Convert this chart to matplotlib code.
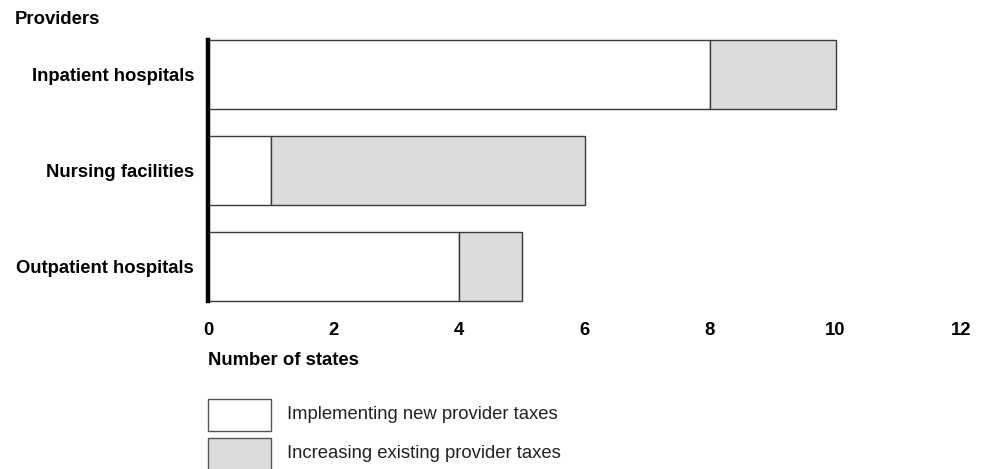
import matplotlib
matplotlib.use("Agg")
import matplotlib.pyplot as plt
from matplotlib.patches import Rectangle

categories = ["Inpatient hospitals", "Nursing facilities", "Outpatient hospitals"]
new_taxes = [8, 1, 4]
increased_taxes = [2, 5, 1]
xticks = [0, 2, 4, 6, 8, 10, 12]
series_labels = ["Implementing new provider taxes", "Increasing existing provider taxes"]

plt.rcParams['font.family'] = ['Liberation Sans', 'DejaVu Sans']
FS = 13.3

W, H = 986, 469
fig = plt.figure(figsize=(W / 100, H / 100), dpi=100)
fig.patch.set_facecolor('white')

left, right, top, bottom = 208, 961, 40, 301
ax = fig.add_axes([left / W, 1 - bottom / H, (right - left) / W, (bottom - top) / H])

pos = list(range(len(categories)))
bh = 0.72
edge = '#3a3a3a'
gray = '#dcdcdc'
ax.barh(pos, new_taxes, height=bh, color='white', edgecolor=edge, linewidth=1.0, clip_on=False)
ax.barh(pos, increased_taxes, left=new_taxes, height=bh, color=gray, edgecolor=edge, linewidth=1.0, clip_on=False)

ax.set_xlim(0, 12)
ax.set_ylim(len(categories) - 1 + bh / 2, -bh / 2)
ax.set_xticks(xticks)
ax.set_xticklabels([str(t) for t in xticks], fontsize=FS, fontweight='bold')
ax.set_yticks(pos)
ax.set_yticklabels(categories, fontsize=FS, fontweight='bold')
ax.tick_params(axis='x', length=0, pad=15)
ax.tick_params(axis='y', length=0, pad=10)
for s in ['top', 'right', 'bottom']:
    ax.spines[s].set_visible(False)
ax.spines['left'].set_linewidth(3.2)
ax.spines['left'].set_color('black')
ax.spines['left'].set_zorder(5)

fig.text(15 / W, 1 - 19 / H, "Providers", fontsize=FS, fontweight='bold', ha='left', va='center')
fig.text(208 / W, 1 - 360 / H, "Number of states", fontsize=FS, fontweight='bold', ha='left', va='center')

legend_fills = ['white', gray]
legend_y = [399, 438]
for fill, y0, lab in zip(legend_fills, legend_y, series_labels):
    fig.add_artist(Rectangle((208 / W, 1 - (y0 + 32) / H), 63 / W, 32 / H,
                             transform=fig.transFigure, facecolor=fill, edgecolor='#555555', linewidth=1.0))
    fig.text(287 / W, 1 - (y0 + 15) / H, lab, fontsize=FS, ha='left', va='center', color='#222222')

fig.savefig("out.png", dpi=100)
